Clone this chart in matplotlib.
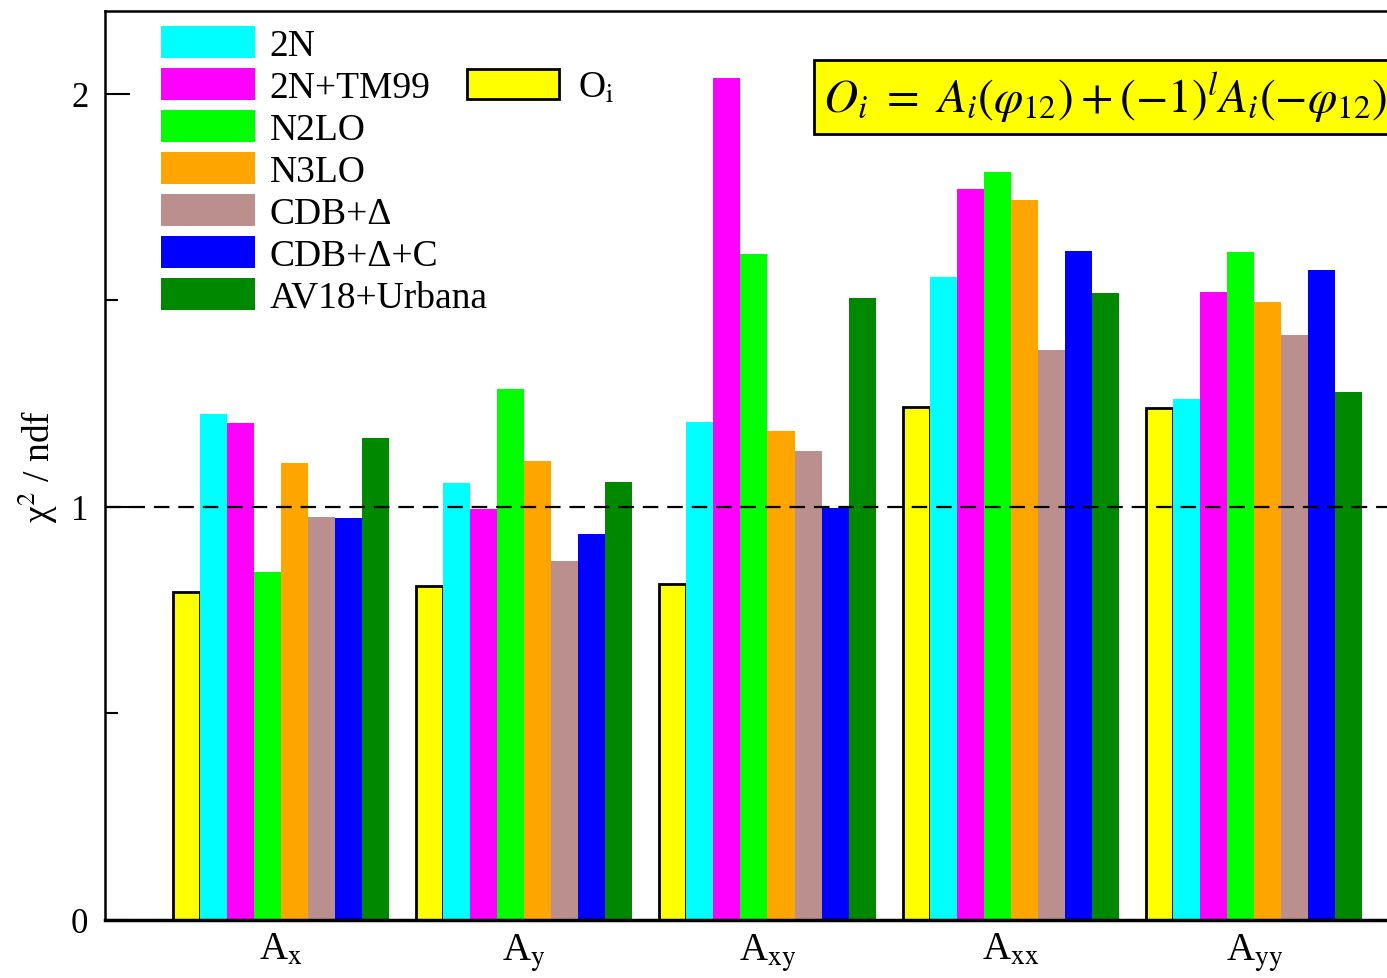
import numpy as np
import matplotlib
matplotlib.use('Agg')
import matplotlib.pyplot as plt
from matplotlib.patches import Patch

plt.rcParams['font.family'] = ['Liberation Serif', 'DejaVu Serif']
plt.rcParams['mathtext.fontset'] = 'stix'

observables = [r'A$_\mathrm{x}$', r'A$_\mathrm{y}$', r'A$_\mathrm{xy}$', r'A$_\mathrm{xx}$', r'A$_\mathrm{yy}$']

# chi^2/ndf for the symmetrised observables O_i
oi_vals = [0.793, 0.809, 0.814, 1.242, 1.239]

model_names = ['2N', '2N+TM99', 'N2LO', 'N3LO', 'CDB+Δ', 'CDB+Δ+C', 'AV18+Urbana']
model_colors = ['#00ffff', '#ff00ff', '#00ff00', '#ffa500', '#bc8f8f', '#0000ff', '#008800']
model_vals = [
    [1.225, 1.058, 1.205, 1.557, 1.262],   # 2N
    [1.203, 0.994, 2.039, 1.770, 1.519],   # 2N+TM99
    [0.843, 1.284, 1.613, 1.811, 1.616],   # N2LO
    [1.105, 1.111, 1.184, 1.742, 1.496],   # N3LO
    [0.976, 0.870, 1.134, 1.379, 1.415],   # CDB+Delta
    [0.973, 0.934, 0.998, 1.619, 1.572],   # CDB+Delta+C
    [1.167, 1.059, 1.505, 1.517, 1.279],   # AV18+Urbana
]

fig = plt.figure(figsize=(13.87, 9.79), dpi=100)
W, H = 1387., 979.
ax = fig.add_axes([105/W, 1 - 921/H, (1430 - 105)/W, (921 - 12)/H])

group_x = np.arange(len(observables)) * 9.0
ax.bar(group_x + 0.5, oi_vals, width=1.0, color='#ffff00', edgecolor='black', linewidth=2)
for k, (vals, c) in enumerate(zip(model_vals, model_colors)):
    ax.bar(group_x + k + 1.5, vals, width=1.0, color=c, edgecolor='none')

ax.axhline(1.0, color='black', ls=(0, (7, 4)), lw=1.6, zorder=3)

ax.set_xlim(-2.5, 46.5)
ax.set_ylim(0, 2.2)
ax.set_xticks(group_x + 4)
ax.set_xticklabels(observables, fontsize=28)
ax.tick_params(axis='x', length=0, pad=8)
ax.set_yticks([0, 1, 2])
ax.set_yticklabels(['0', '1', '2'], fontsize=25)
ax.set_yticks([0.5, 1.5], minor=True)
ax.tick_params(axis='y', which='major', direction='in', length=18, width=1.5, pad=12)
ax.tick_params(axis='y', which='minor', direction='in', length=9, width=1.5)
for s in ax.spines.values():
    s.set_linewidth(1.8)
ax.spines['bottom'].set_linewidth(2.5)

ax.set_ylabel('χ$^{\\mathrm{2}}$ / ndf', fontsize=27, labelpad=8)

handles = [Patch(facecolor=c, edgecolor='none') for c in model_colors]
leg1 = ax.legend(handles, model_names, loc='upper left', bbox_to_anchor=(161/W, 1 - 27/H),
                 bbox_transform=fig.transFigure, frameon=False, fontsize=27,
                 handlelength=2.5, handleheight=0.95, handletextpad=0.4,
                 labelspacing=0.13, borderpad=0, borderaxespad=0)
ax.add_artist(leg1)
ax.legend([Patch(facecolor='#ffff00', edgecolor='black', linewidth=2)], [r'O$_\mathrm{i}$'],
          loc='upper left', bbox_to_anchor=(467/W, 1 - 70/H), bbox_transform=fig.transFigure,
          frameon=False, fontsize=27, handlelength=2.45, handleheight=0.85,
          handletextpad=0.5, borderpad=0, borderaxespad=0)

fig.text(823/W, 1 - 98/H,
         r'$O_i\ =\ A_i(\varphi_{12})+(-1)^l A_i(-\varphi_{12})$',
         fontsize=34, ha='left', va='center',
         bbox=dict(boxstyle='square,pad=0.2', facecolor='#ffff00', edgecolor='black', linewidth=2))

fig.savefig('out.png', dpi=100)
